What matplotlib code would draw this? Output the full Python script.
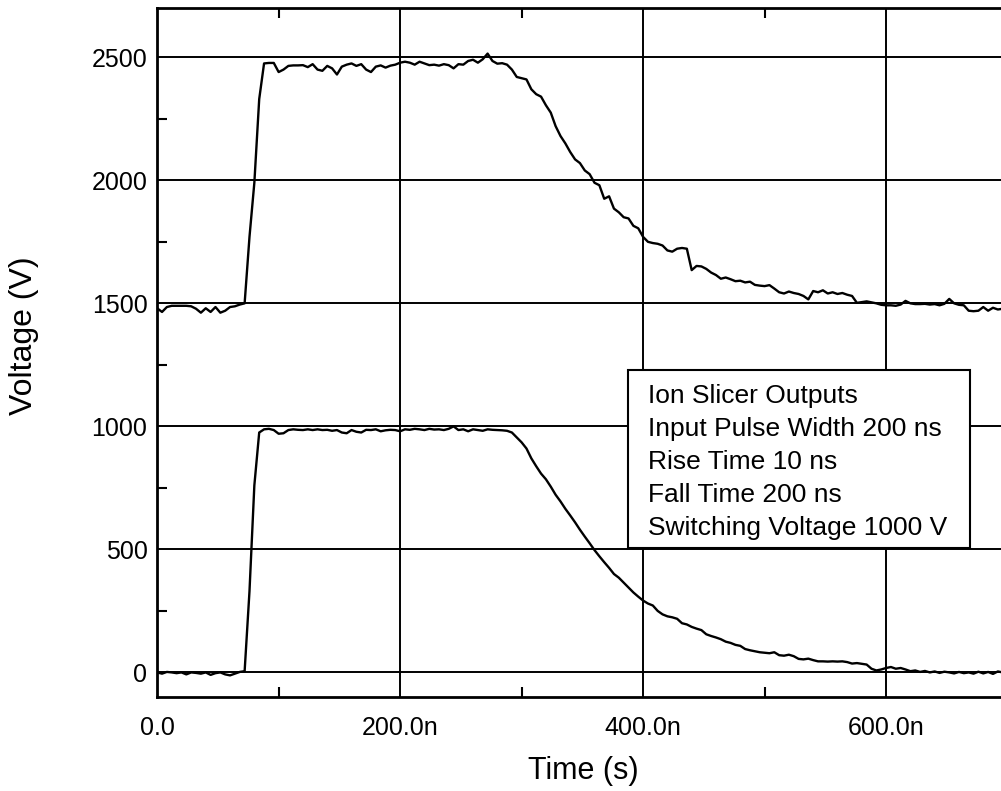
"""Ion slicer output traces (scope capture redraw)."""
import numpy as np
import matplotlib
matplotlib.use('Agg')
import matplotlib.pyplot as plt
from matplotlib.patches import Rectangle
from matplotlib.ticker import MultipleLocator, FuncFormatter

plt.rcParams['font.family'] = ['Liberation Sans', 'DejaVu Sans']

# scope samples, one every 4 ns starting at t = 0
SAMPLE_NS = 4

upper_trace = [
    1480, 1465, 1485, 1490, 1490, 1490, 1490, 1488, 1478, 1462,
    1480, 1465, 1485, 1462, 1470, 1485, 1488, 1495, 1500, 1770,
    1990, 2330, 2475, 2477, 2477, 2440, 2450, 2465, 2467, 2467,
    2468, 2460, 2472, 2450, 2445, 2465, 2455, 2430, 2462, 2470,
    2475, 2465, 2472, 2450, 2440, 2462, 2467, 2458, 2466, 2470,
    2478, 2482, 2478, 2470, 2482, 2475, 2468, 2470, 2466, 2472,
    2468, 2455, 2472, 2470, 2485, 2490, 2478, 2492, 2515, 2485,
    2474, 2476, 2470, 2450, 2420, 2415, 2410, 2370, 2350, 2340,
    2305, 2275, 2220, 2180, 2150, 2115, 2085, 2070, 2040, 2025,
    1990, 1980, 1925, 1935, 1885, 1870, 1850, 1845, 1815, 1805,
    1770, 1750, 1745, 1742, 1735, 1715, 1710, 1722, 1725, 1722,
    1635, 1652, 1650, 1640, 1625, 1615, 1600, 1605, 1598, 1590,
    1592, 1585, 1588, 1575, 1572, 1570, 1574, 1560, 1545, 1540,
    1548, 1542, 1538, 1530, 1516, 1550, 1545, 1553, 1540, 1545,
    1538, 1542, 1535, 1530, 1502, 1505, 1508, 1504, 1500, 1494,
    1492, 1492, 1490, 1495, 1510, 1500, 1497, 1497, 1498, 1495,
    1497, 1492, 1498, 1518, 1500, 1494, 1492, 1470, 1468, 1470,
    1485, 1470, 1482, 1475, 1478,
]

lower_trace = [
    0, -5, 2, 0, -3, 0, -8, 0, -2, -5,
    0, -10, -3, 0, -8, -12, -5, 2, 5, 330,
    760, 975, 988, 990, 985, 970, 972, 985, 988, 986,
    985, 988, 985, 988, 985, 986, 982, 985, 975, 972,
    985, 978, 975, 986, 985, 988, 980, 984, 986, 985,
    980, 988, 986, 990, 988, 985, 990, 987, 988, 985,
    990, 1000, 985, 988, 980, 988, 985, 982, 988, 986,
    985, 984, 982, 975, 955, 935, 910, 870, 838, 808,
    785, 755, 722, 695, 665, 638, 610, 580, 552, 525,
    497, 472, 448, 425, 400, 385, 365, 345, 325, 308,
    292, 280, 272, 250, 236, 228, 224, 218, 200, 195,
    185, 178, 172, 155, 148, 142, 135, 125, 120, 112,
    108, 95, 90, 86, 82, 80, 78, 82, 70, 68,
    72, 66, 55, 53, 56, 50, 45, 45, 44, 45,
    44, 45, 42, 36, 38, 35, 32, 15, 8, 12,
    18, 22, 15, 18, 12, 5, 8, 2, 6, 0,
    4, -2, 3, 0, -4, 2, -3, 0, -5, 3,
    -4, 2, -6, 4, 0,
]

time_ns = np.arange(len(upper_trace)) * SAMPLE_NS

info_lines = [
    'Ion Slicer Outputs',
    'Input Pulse Width 200 ns',
    'Rise Time 10 ns',
    'Fall Time 200 ns',
    'Switching Voltage 1000 V',
]

fig = plt.figure(figsize=(10.01, 7.91), dpi=100)
ax = fig.add_axes([0.157, 0.1188, 0.843, 0.871])

ax.plot(time_ns, upper_trace, color='black', lw=1.7, zorder=3)
ax.plot(time_ns, lower_trace, color='black', lw=1.7, zorder=3)

ax.set_xlim(0, 694.6)
ax.set_ylim(-100, 2700)

# Ticks and grid
ax.xaxis.set_major_locator(MultipleLocator(200))
ax.xaxis.set_minor_locator(MultipleLocator(100))
ax.yaxis.set_major_locator(MultipleLocator(500))
ax.yaxis.set_minor_locator(MultipleLocator(250))
ax.xaxis.set_major_formatter(FuncFormatter(lambda v, p: '0.0' if v == 0 else f'{v:.1f}n'))
ax.yaxis.set_major_formatter(FuncFormatter(lambda v, p: f'{v:.0f}'))
ax.tick_params(which='both', direction='in', top=True, right=False, color='black')
ax.tick_params(which='major', length=0, labelsize=18)
ax.tick_params(which='minor', length=7, width=1.5)
ax.tick_params(axis='x', which='major', pad=14)
ax.tick_params(axis='y', which='major', pad=7)

ax.set_axisbelow(True)
ax.grid(which='major', color='black', lw=1.4)

for side in ('left', 'top', 'bottom'):
    ax.spines[side].set_linewidth(2.0)
ax.spines['right'].set_visible(False)

ax.set_xlabel('Time (s)', fontsize=22)
ax.set_ylabel('Voltage (V)', fontsize=23)
ax.xaxis.set_label_coords(0.505, -0.085)
ax.yaxis.set_label_coords(-0.14, 0.525)

# Info box
box = Rectangle((0.5577, 0.2167), 0.4056, 0.2579, transform=ax.transAxes,
                facecolor='white', edgecolor='black', lw=1.5, zorder=5)
ax.add_patch(box)
for i, line in enumerate(info_lines):
    ax.text(0.5818, 0.4267 - i * 0.0479, line, transform=ax.transAxes,
            fontsize=19, va='baseline', ha='left', zorder=6)

fig.savefig('out.png', dpi=100, facecolor='white')
plt.close(fig)
